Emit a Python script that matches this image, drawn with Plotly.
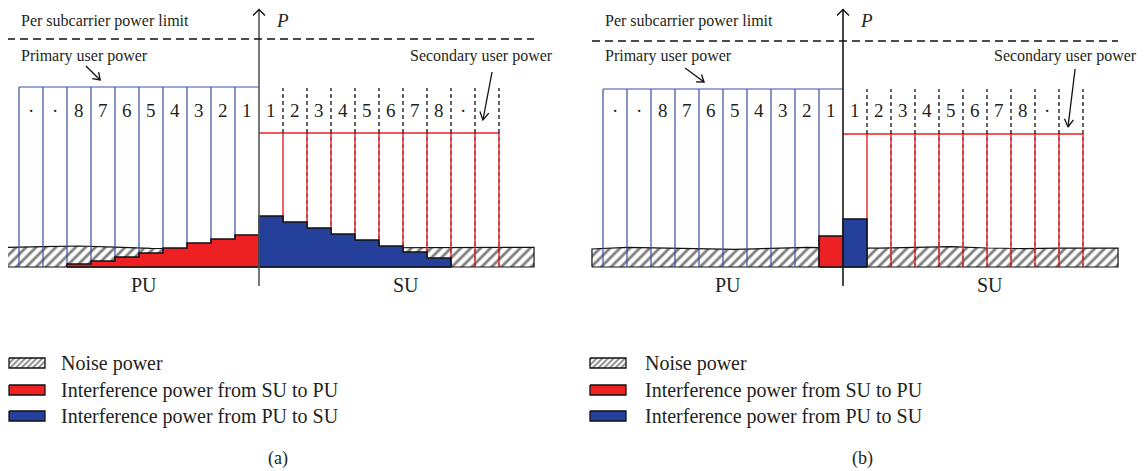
import math
import plotly.graph_objects as go

W, H = 1147, 471          # window size
OFF = 8                   # page body margin
FW, FH = W - OFF, H - OFF  # figure size
FONT = "Liberation Serif"
TXT = "#231f20"

# ---------------- data (x: subcarrier index, y: power units) ----------------
PU_LABELS = ["·", "·", "8", "7", "6", "5", "4", "3", "2", "1"]   # boxes -10..0
SU_LABELS = ["1", "2", "3", "4", "5", "6", "7", "8", "·", ""]    # boxes 0..10
N_BOX = 10

PU_POWER = [9.0, 8.9]          # primary user power level  (a), (b)
SU_POWER = [6.7, 6.65]         # secondary user power level
SU_BOX_TOP = [8.95, 8.9]       # top of dashed SU boxes
POWER_LIMIT = [11.4, 11.3]     # per-subcarrier power limit
BAND_X = [[-10.5, 11.46], [-10.46, 11.46]]

RED_A = [0, 0, 0.15, 0.3, 0.5, 0.7, 0.95, 1.2, 1.4, 1.6]          # SU -> PU interference
BLUE_A = [2.55, 2.25, 1.95, 1.65, 1.35, 1.05, 0.75, 0.45, 0, 0]   # PU -> SU interference
RED_B = [0, 0, 0, 0, 0, 0, 0, 0, 0, 1.55]
BLUE_B = [2.4, 0, 0, 0, 0, 0, 0, 0, 0, 0]

NOISE_X_A = [-10.5, -9, -7.5, -6, -4.5, -3, -1.5, 0, 2, 4, 6, 8, 10, 11.46]
NOISE_Y_A = [0.98, 1.02, 1.05, 0.99, 0.93, 0.92, 0.95, 0.95, 0.95, 0.95, 0.97, 0.96, 0.98, 0.98]
NOISE_X_B = [-10.46, -9, -7.5, -6, -4.5, -3, -1.5, 0, 1.5, 3, 4.5, 6, 7.5, 9, 11.46]
NOISE_Y_B = [0.9, 0.98, 0.95, 0.93, 0.88, 0.93, 0.98, 0.95, 0.94, 0.98, 1.02, 0.95, 0.92, 0.94, 0.95]

AXIS_Y = [-0.95, 12.88]

PRIMARY_ARROW = [[(-7.21, 10.05), (-6.62, 9.35)], [(-6.58, 9.95), (-5.79, 9.25)]]
SECONDARY_ARROW = [[(9.71, 9.75), (9.33, 7.35)], [(9.67, 9.9), (9.375, 7.0)]]

LEGEND_NAMES = ["Noise power", "Interference power from SU to PU", "Interference power from PU to SU"]
CAPTIONS = ["(a)", "(b)"]

# pixel scales of the data axes (page pixels)
SX, SY = 24.0, 20.0
AX_PX = [259, 843]   # page x of the power axes
BASE_PX = 267        # page y of zero power
SPLIT_PX = 573
Y_RANGE = [(BASE_PX - H) / SY, (BASE_PX - OFF) / SY]
X_RANGES = [[(OFF - AX_PX[0]) / SX, (SPLIT_PX - AX_PX[0]) / SX],
            [(SPLIT_PX - AX_PX[1]) / SX, (W - AX_PX[1]) / SX]]
SPLIT = (SPLIT_PX - OFF) / FW

RED = "#ed2024"
BLUE = "#24409a"
PUBLUE = "#3a4ea2"
HATCH = dict(shape="/", size=7, solidity=0.4, fgcolor="#000", bgcolor="white")

fig = go.Figure()


def arrow_xy(p0, p1, head, ang):
    x0, y0 = p0
    x1, y1 = p1
    X0, Y0, X1, Y1 = x0 * SX, y0 * SY, x1 * SX, y1 * SY
    L = math.hypot(X1 - X0, Y1 - Y0)
    bx, by = (X0 - X1) / L, (Y0 - Y1) / L
    a = math.radians(ang)
    h1 = (bx * math.cos(a) - by * math.sin(a), bx * math.sin(a) + by * math.cos(a))
    h2 = (bx * math.cos(a) + by * math.sin(a), -bx * math.sin(a) + by * math.cos(a))
    xs = [x0, x1, None, (X1 + head * h1[0]) / SX, x1, (X1 + head * h2[0]) / SX]
    ys = [y0, y1, None, (Y1 + head * h1[1]) / SY, y1, (Y1 + head * h2[1]) / SY]
    return xs, ys


def step_poly(vals, x0):
    idx = [i for i, v in enumerate(vals) if v > 0]
    if not idx:
        return [], []
    xs = [x0 + idx[0]]
    ys = [0]
    for i in idx:
        xs += [x0 + i, x0 + i + 1]
        ys += [vals[i], vals[i]]
    xs += [x0 + idx[-1] + 1, x0 + idx[0]]
    ys += [0, 0]
    return xs, ys


def line(xs, ys, color, width, xa, ya, dash="solid"):
    fig.add_trace(go.Scatter(x=xs, y=ys, mode="lines", xaxis=xa, yaxis=ya,
                             line=dict(color=color, width=width, dash=dash),
                             hoverinfo="skip", showlegend=False))


panels = [
    ("x", "y", RED_A, BLUE_A, NOISE_X_A, NOISE_Y_A, "#555555"),
    ("x2", "y2", RED_B, BLUE_B, NOISE_X_B, NOISE_Y_B, "#1a1a1a"),
]

annotations = []
for k, (xa, ya, red, blue, nx, ny, axcol) in enumerate(panels):
    # noise band
    fig.add_trace(go.Scatter(x=[nx[0]] + nx + [nx[-1], nx[0]], y=[0] + ny + [0, 0],
                             mode="lines", fill="toself", fillcolor="white", fillpattern=HATCH,
                             line=dict(color="#111", width=1.2), xaxis=xa, yaxis=ya,
                             hoverinfo="skip", showlegend=False))
    # primary user power boxes
    xs, ys = [], []
    for i in range(N_BOX):
        xs += [-N_BOX + i, -N_BOX + i, None]
        ys += [0, PU_POWER[k], None]
    xs += [-N_BOX, 0]
    ys += [PU_POWER[k], PU_POWER[k]]
    line(xs, ys, PUBLUE, 1.2, xa, ya)
    # secondary user power
    xs, ys = [0, N_BOX, None], [SU_POWER[k], SU_POWER[k], None]
    for i in range(1, N_BOX + 1):
        xs += [i, i, None]
        ys += [0, SU_POWER[k], None]
    line(xs, ys, RED, 1.4, xa, ya)
    xs, ys = [], []
    for i in range(2, N_BOX + 1):
        xs += [i, i, None]
        ys += [0, SU_POWER[k], None]
    line(xs, ys, "rgba(60,0,0,0.45)", 1.2, xa, ya, dash="4px,3px")
    xs, ys = [], []
    for i in range(1, N_BOX + 1):
        xs += [i, i, None]
        ys += [SU_POWER[k], SU_BOX_TOP[k], None]
    line(xs, ys, "#111", 1.3, xa, ya, dash="4px,3px")
    # interference
    rx, ry = step_poly(red, -N_BOX)
    fig.add_trace(go.Scatter(x=rx, y=ry, mode="lines", fill="toself", fillcolor=RED,
                             line=dict(color="#111", width=1.5), xaxis=xa, yaxis=ya,
                             hoverinfo="skip", showlegend=False))
    bx, by = step_poly(blue, 0)
    fig.add_trace(go.Scatter(x=bx, y=by, mode="lines", fill="toself", fillcolor=BLUE,
                             line=dict(color="#111", width=1.5), xaxis=xa, yaxis=ya,
                             hoverinfo="skip", showlegend=False))
    # power axis
    line([0, 0], AXIS_Y, axcol, 1.6, xa, ya)
    ax_x, ax_y = arrow_xy((0, AXIS_Y[0]), (0, AXIS_Y[1]), 8.5, 45)
    line(ax_x[3:], ax_y[3:], "#111", 1.4, xa, ya)
    # power limit
    line(BAND_X[k], [POWER_LIMIT[k]] * 2, "#111", 1.3, xa, ya, dash="8px,5px")
    # pointer arrows
    px_, py_ = arrow_xy(*PRIMARY_ARROW[k], 8, 35)
    line(px_, py_, "#111", 1.3, xa, ya)
    sx_, sy_ = arrow_xy(*SECONDARY_ARROW[k], 9, 30)
    line(sx_, sy_, "#111", 1.3, xa, ya)

    def ann(x, y, text, size, xanchor="center"):
        annotations.append(dict(x=x, y=y, xref=xa, yref=ya, text=text, showarrow=False,
                                xanchor=xanchor, yanchor="middle",
                                font=dict(family=FONT, size=size, color=TXT)))

    for i, lab in enumerate(PU_LABELS):
        ann(-N_BOX + i + 0.5, 7.85, lab, 19)
    for i, lab in enumerate(SU_LABELS):
        if lab:
            ann(i + 0.5, 7.85, lab, 19)
    ann(-10.0, 12.3, "Per subcarrier power limit", 16, "left")
    ann(0.96, 12.35, "<i>P</i>", 19)
    ann(-10.0, 10.55, "Primary user power", 16, "left")
    ann(12.35, 10.55, "Secondary user power", 16, "right")
    ann(-4.8, -0.9, "PU", 20)
    ann(6.12, -0.9, "SU", 20)

# ---------------- legend (page-pixel frame overlay) ----------------
LEG_SW_X = [[9, 45], [590, 626]]
LEG_TXT_X = [59, 643]
LEG_ROW_Y = [[358, 368], [385, 395], [411, 421]]
CAP_X = [278, 862]
CAP_Y = 458
sw_fill = [("white", True), (RED, False), (BLUE, False)]
for k in range(2):
    x0, x1 = LEG_SW_X[k]
    for r, (y0, y1) in enumerate(LEG_ROW_Y):
        fc, pat = sw_fill[r]
        kw = dict(fillpattern=dict(shape="/", size=4, solidity=0.45, fgcolor="#000", bgcolor="white")) if pat else {}
        fig.add_trace(go.Scatter(x=[x0, x1, x1, x0, x0], y=[y0, y0, y1, y1, y0], mode="lines",
                                 fill="toself", fillcolor=fc, line=dict(color="#111", width=1.3),
                                 xaxis="x3", yaxis="y3", hoverinfo="skip", showlegend=False, **kw))
        annotations.append(dict(x=LEG_TXT_X[k], y=(y0 + y1) / 2, xref="x3", yref="y3",
                                text=LEGEND_NAMES[r], showarrow=False, xanchor="left",
                                yanchor="middle", font=dict(family=FONT, size=20, color=TXT)))
    annotations.append(dict(x=CAP_X[k], y=CAP_Y, xref="x3", yref="y3", text=CAPTIONS[k],
                            showarrow=False, xanchor="center", yanchor="middle",
                            font=dict(family=FONT, size=18, color=TXT)))

hidden = dict(visible=False, showgrid=False, zeroline=False, fixedrange=True)
fig.update_layout(
    width=FW, height=FH, margin=dict(l=0, r=0, t=0, b=0),
    paper_bgcolor="white", plot_bgcolor="rgba(0,0,0,0)",
    xaxis=dict(domain=[0, SPLIT], range=X_RANGES[0], **hidden),
    yaxis=dict(domain=[0, 1], range=Y_RANGE, anchor="x", **hidden),
    xaxis2=dict(domain=[SPLIT, 1], range=X_RANGES[1], anchor="y2", **hidden),
    yaxis2=dict(domain=[0, 1], range=Y_RANGE, anchor="x2", **hidden),
    xaxis3=dict(domain=[0, 1], range=[OFF, W], anchor="y3", **hidden),
    yaxis3=dict(domain=[0, 1], range=[H, OFF], anchor="x3", **hidden),
    annotations=annotations,
    showlegend=False,
)
fig.write_html("out.html")
